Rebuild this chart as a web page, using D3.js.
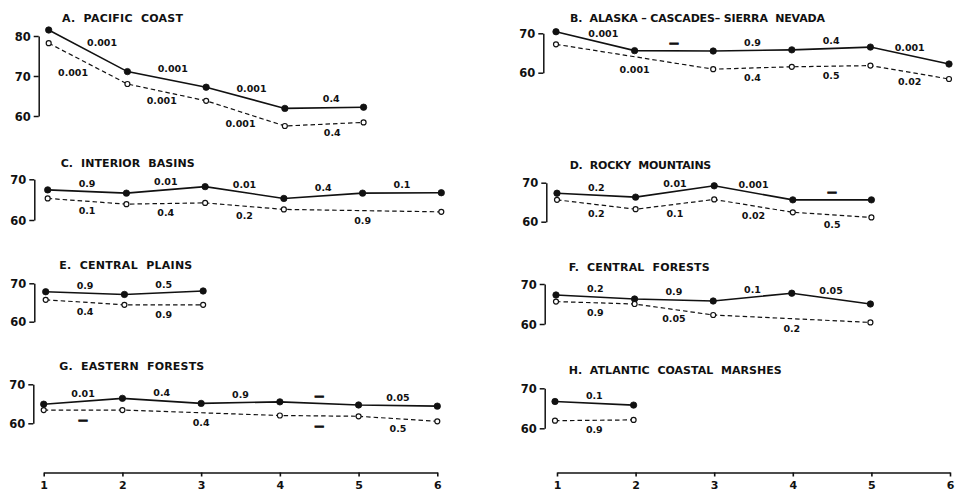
<!DOCTYPE html>
<html>
<head>
<meta charset="utf-8">
<script src="https://cdn.jsdelivr.net/npm/d3@7"></script>
<style>
  html, body { margin: 0; padding: 0; background: #fff; }
  svg { display: block; }
</style>
</head>
<body>
<script>
// ---------------- DATA ----------------
const steps = [1, 2, 3, 4, 5, 6];
const stepLabels = ["1", "2", "3", "4", "5", "6"];

const titles = [
  "A.  PACIFIC  COAST",
  "B.  ALASKA – CASCADES– SIERRA  NEVADA",
  "C.  INTERIOR  BASINS",
  "D.  ROCKY  MOUNTAINS",
  "E.  CENTRAL  PLAINS",
  "F.  CENTRAL  FORESTS",
  "G.  EASTERN  FORESTS",
  "H.  ATLANTIC  COASTAL  MARSHES"
];

// solid line (filled circles) and dashed line (open circles); null = no point
const solidA  = [81.5, 71.1, 67.2, 61.9, 62.2];
const dashedA = [78.2, 68.0, 63.8, 57.5, 58.4];
const solidB  = [70.4, 65.6, 65.5, 65.8, 66.5, 62.2];
const dashedB = [67.2, null, 60.9, 61.5, 61.8, 58.4];
const solidC  = [67.4, 66.6, 68.2, 65.3, 66.6, 66.7];
const dashedC = [65.3, 63.9, 64.2, 62.6, null, 62.0];
const solidD  = [67.3, 66.3, 69.2, 65.6, 65.6];
const dashedD = [65.6, 63.2, 65.7, 62.4, 61.1];
const solidE  = [67.8, 67.1, 68.0];
const dashedE = [65.7, 64.4, 64.4];
const solidF  = [67.25, 66.25, 65.75, 67.7, 65.0];
const dashedF = [65.6, 65.0, 62.25, null, 60.4];
const solidG  = [64.9, 66.4, 65.1, 65.5, 64.7, 64.4];
const dashedG = [63.4, 63.4, null, 62.0, 61.8, 60.5];
const solidH  = [66.7, 65.8];
const dashedH = [61.9, 62.1];

// significance labels for each segment
const solidPA  = ["0.001", "0.001", "0.001", "0.4"];
const dashedPA = ["0.001", "0.001", "0.001", "0.4"];
const solidPB  = ["0.001", "—", "0.9", "0.4", "0.001"];
const dashedPB = ["0.001", "0.4", "0.5", "0.02"];
const solidPC  = ["0.9", "0.01", "0.01", "0.4", "0.1"];
const dashedPC = ["0.1", "0.4", "0.2", "0.9"];
const solidPD  = ["0.2", "0.01", "0.001", "—"];
const dashedPD = ["0.2", "0.1", "0.02", "0.5"];
const solidPE  = ["0.9", "0.5"];
const dashedPE = ["0.4", "0.9"];
const solidPF  = ["0.2", "0.9", "0.1", "0.05"];
const dashedPF = ["0.9", "0.05", "0.2"];
const solidPG  = ["0.01", "0.4", "0.9", "—", "0.05"];
const dashedPG = ["—", "0.4", "—", "0.5"];
const solidPH  = ["0.1"];
const dashedPH = ["0.9"];

const yTicks2 = [60, 70];
const yTicks3 = [60, 70, 80];

// ---------------- LAYOUT ----------------
const W = 956, H = 491;
const colRange = [[43.7, 437.3], [557, 950]];
const axisY = 472.5;

const panels = [
  {solid: solidA, dashed: dashedA, sp: solidPA, dp: dashedPA, col: 0, dx: 5,  dom: [60, 80], rng: [116, 36],   ticks: yTicks3, ax: 38.7,  tx: 62,    ty: 21.7,  tw: 121,
   nudgeS: [[14, 0], [6, -3], [6, -1], [7, -1]], nudgeD: [[-15, -1], [-5, -1], [-5, 1], [8, -1]]},
  {solid: solidB, dashed: dashedB, sp: solidPB, dp: dashedPB, col: 1, dx: -1, dom: [60, 70], rng: [72.7, 33.3], ticks: yTicks2, ax: 543.3, tx: 570,   ty: 21.7,  tw: 255,
   nudgeS: [[8, 0]], nudgeD: [[0, 3]]},
  {solid: solidC, dashed: dashedC, sp: solidPC, dp: dashedPC, col: 0, dx: 4,  dom: [60, 70], rng: [220, 179.3], ticks: yTicks2, ax: 34.3,  tx: 60.7,  ty: 166.7, tw: 134},
  {solid: solidD, dashed: dashedD, sp: solidPD, dp: dashedPD, col: 1, dx: 0,  dom: [60, 70], rng: [221.7, 182.7], ticks: yTicks2, ax: 546.3, tx: 569.7, ty: 169.3, tw: 141.6},
  {solid: solidE, dashed: dashedE, sp: solidPE, dp: dashedPE, col: 0, dx: 2,  dom: [60, 70], rng: [321.7, 283.3], ticks: yTicks2, ax: 34.3,  tx: 59.3,  ty: 269,   tw: 133},
  {solid: solidF, dashed: dashedF, sp: solidPF, dp: dashedPF, col: 1, dx: -1, dom: [60, 70], rng: [324, 284],   ticks: yTicks2, ax: 544.7, tx: 568.7, ty: 270.7, tw: 141},
  {solid: solidG, dashed: dashedG, sp: solidPG, dp: dashedPG, col: 0, dx: 0,  dom: [60, 70], rng: [423.3, 384.3], ticks: yTicks2, ax: 33.3,  tx: 59.3,  ty: 370,   tw: 145},
  {solid: solidH, dashed: dashedH, sp: solidPH, dp: dashedPH, col: 1, dx: -2, dom: [60, 70], rng: [428.3, 388.3], ticks: yTicks2, ax: 544.7, tx: 568.7, ty: 374,   tw: 213}
];

const INK = "#111";
const FONT = "'DejaVu Sans', Arial, sans-serif";

const svg = d3.select("body").append("svg")
  .attr("width", W).attr("height", H)
  .attr("viewBox", `0 0 ${W} ${H}`);

svg.append("rect").attr("width", W).attr("height", H).attr("fill", "#fff");

const colScales = colRange.map(r => d3.scaleLinear().domain([1, 6]).range(r));

panels.forEach((p, pi) => {
  const base = colScales[p.col];
  const x = d3.scaleLinear().domain([1, 6]).range(base.range().map(v => v + p.dx));
  const y = d3.scaleLinear().domain(p.dom).range(p.rng);
  const g = svg.append("g");

  // title
  g.append("text")
    .attr("x", p.tx).attr("y", p.ty)
    .attr("textLength", p.tw).attr("lengthAdjust", "spacing")
    .style("white-space", "pre")
    .attr("font-family", FONT).attr("font-weight", "bold").attr("font-size", 11)
    .attr("fill", INK)
    .text(titles[pi]);

  // y bracket axis
  const yAxis = d3.axisLeft(y).tickValues(p.ticks).tickSize(5).tickSizeOuter(0).tickPadding(3)
    .tickFormat(d3.format("d"));
  const ga = g.append("g").attr("transform", `translate(${p.ax},0)`).call(yAxis);
  ga.select(".domain").attr("stroke", INK).attr("stroke-width", 1.5);
  ga.selectAll(".tick line").attr("stroke", INK).attr("stroke-width", 1.5);
  ga.selectAll(".tick text")
    .attr("font-family", FONT).attr("font-weight", "bold").attr("font-size", 11.5)
    .attr("fill", INK).attr("dy", "0.36em");
  ga.attr("font-family", null).attr("font-size", null);

  const series = [
    {vals: p.solid, labs: p.sp, dashed: false, nudge: p.nudgeS || [], off: -8},
    {vals: p.dashed, labs: p.dp, dashed: true, nudge: p.nudgeD || [], off: 9.5}
  ];

  const line = d3.line().x(d => x(d.s)).y(d => y(d.v));

  series.forEach(s => {
    const pts = s.vals.map((v, i) => ({s: steps[i], v})).filter(d => d.v != null);
    g.append("path")
      .datum(pts)
      .attr("d", line)
      .attr("fill", "none")
      .attr("stroke", INK)
      .attr("stroke-width", s.dashed ? 1.2 : 1.6)
      .attr("stroke-dasharray", s.dashed ? "4.5,3" : null);

    g.selectAll(null).data(pts).enter().append("circle")
      .attr("cx", d => x(d.s)).attr("cy", d => y(d.v))
      .attr("r", s.dashed ? 2.5 : 3.2)
      .attr("fill", s.dashed ? "#fff" : INK)
      .attr("stroke", INK)
      .attr("stroke-width", s.dashed ? 1.2 : 0.8);

    // segment labels
    const segs = d3.pairs(pts);
    g.selectAll(null).data(segs).enter().append("text")
      .attr("x", (d, i) => (x(d[0].s) + x(d[1].s)) / 2 + ((s.nudge[i] || [0, 0])[0]))
      .attr("y", (d, i) => (y(d[0].v) + y(d[1].v)) / 2 + s.off + ((s.nudge[i] || [0, 0])[1]))
      .attr("dy", "0.36em")
      .attr("text-anchor", "middle")
      .attr("font-family", FONT).attr("font-weight", "bold").attr("font-size", 9.5)
      .attr("fill", INK)
      .attr("stroke", (d, i) => s.labs[i] === "—" ? INK : null)
      .attr("stroke-width", (d, i) => s.labs[i] === "—" ? 1 : null)
      .text((d, i) => s.labs[i]);
  });
});

// bottom step axes
colScales.forEach(sc => {
  const ax = d3.axisBottom(sc).tickValues(steps).tickSize(4).tickSizeOuter(0).tickPadding(5)
    .tickFormat((d, i) => stepLabels[i]);
  const gb = svg.append("g").attr("transform", `translate(0,${axisY})`).call(ax);
  gb.select(".domain").attr("stroke", INK).attr("stroke-width", 1.6);
  gb.selectAll(".tick line").attr("stroke", INK).attr("stroke-width", 1.6);
  gb.selectAll(".tick text")
    .attr("font-family", FONT).attr("font-weight", "bold").attr("font-size", 11)
    .attr("fill", INK);
  gb.attr("font-family", null).attr("font-size", null);
});
</script>
</body>
</html>
